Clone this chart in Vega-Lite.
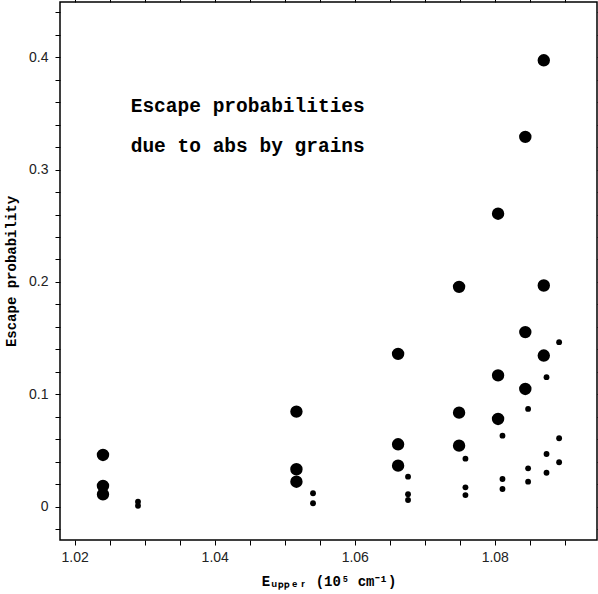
{
  "$schema": "https://vega.github.io/schema/vega-lite/v6.json",
  "autosize": "none",
  "width": 537,
  "height": 538,
  "padding": {"left": 60, "top": 2, "right": 1, "bottom": 54},
  "background": "white",
  "config": {
    "view": {"stroke": "black", "strokeWidth": 1.5},
    "axis": {"grid": false, "domain": false, "tickColor": "black", "tickWidth": 1, "labelFont": "Liberation Sans", "labelFontSize": 14, "labelColor": "#222", "titleFont": "Liberation Mono", "titleFontWeight": "bold", "titleFontSize": 14, "titleColor": "black"}
  },
  "datasets": {
    "pts": [
      {"e": 1.02404, "p": 0.0459, "kind": "big"},
      {"e": 1.02404, "p": 0.0183, "kind": "big"},
      {"e": 1.02404, "p": 0.0109, "kind": "big"},
      {"e": 1.02904, "p": 0.0043, "kind": "small"},
      {"e": 1.02904, "p": 0.0007, "kind": "small"},
      {"e": 1.05167, "p": 0.0845, "kind": "big"},
      {"e": 1.05167, "p": 0.0332, "kind": "big"},
      {"e": 1.05167, "p": 0.0221, "kind": "big"},
      {"e": 1.05404, "p": 0.0118, "kind": "small"},
      {"e": 1.05404, "p": 0.0029, "kind": "small"},
      {"e": 1.06619, "p": 0.1359, "kind": "big"},
      {"e": 1.06619, "p": 0.0554, "kind": "big"},
      {"e": 1.06619, "p": 0.0364, "kind": "big"},
      {"e": 1.06761, "p": 0.0266, "kind": "small"},
      {"e": 1.06761, "p": 0.0109, "kind": "small"},
      {"e": 1.06761, "p": 0.0058, "kind": "small"},
      {"e": 1.0749, "p": 0.1956, "kind": "big"},
      {"e": 1.0749, "p": 0.0836, "kind": "big"},
      {"e": 1.0749, "p": 0.0542, "kind": "big"},
      {"e": 1.07581, "p": 0.0426, "kind": "small"},
      {"e": 1.07581, "p": 0.0171, "kind": "small"},
      {"e": 1.07581, "p": 0.0102, "kind": "small"},
      {"e": 1.08047, "p": 0.2607, "kind": "big"},
      {"e": 1.08047, "p": 0.1168, "kind": "big"},
      {"e": 1.08047, "p": 0.078, "kind": "big"},
      {"e": 1.0811, "p": 0.0631, "kind": "small"},
      {"e": 1.0811, "p": 0.0245, "kind": "small"},
      {"e": 1.0811, "p": 0.0156, "kind": "small"},
      {"e": 1.08436, "p": 0.3291, "kind": "big"},
      {"e": 1.08436, "p": 0.1553, "kind": "big"},
      {"e": 1.08436, "p": 0.1047, "kind": "big"},
      {"e": 1.08476, "p": 0.0869, "kind": "small"},
      {"e": 1.08476, "p": 0.034, "kind": "small"},
      {"e": 1.08476, "p": 0.0221, "kind": "small"},
      {"e": 1.087, "p": 0.3973, "kind": "big"},
      {"e": 1.087, "p": 0.1968, "kind": "big"},
      {"e": 1.087, "p": 0.1344, "kind": "big"},
      {"e": 1.08739, "p": 0.1152, "kind": "small"},
      {"e": 1.08739, "p": 0.0468, "kind": "small"},
      {"e": 1.08739, "p": 0.0301, "kind": "small"},
      {"e": 1.08919, "p": 0.1463, "kind": "small"},
      {"e": 1.08919, "p": 0.0608, "kind": "small"},
      {"e": 1.08919, "p": 0.0394, "kind": "small"}
    ],
    "notes": [
      {"t": "Escape probabilities", "tx": 1.0280, "ty": 0.3512},
      {"t": "due to abs by grains", "tx": 1.0280, "ty": 0.3157}
    ]
  },
  "resolve": {"axis": {"x": "independent", "y": "independent"}},
  "layer": [
    {
      "data": {"name": "pts"},
      "mark": {"type": "circle", "color": "black", "opacity": 1},
      "encoding": {
        "x": {
          "field": "e", "type": "quantitative",
          "scale": {"domain": [1.0179, 1.0946], "nice": false, "zero": false},
          "axis": {
            "orient": "bottom",
            "values": [1.02, 1.025, 1.03, 1.035, 1.04, 1.045, 1.05, 1.055, 1.06, 1.065, 1.07, 1.075, 1.08, 1.085, 1.09],
            "labelExpr": "abs(datum.value*50 - round(datum.value*50)) < 0.001 ? format(datum.value, '.2f') : ''",
            "tickSize": 5,
            "labelPadding": 5,
            "title": "Eᵤₚₚₑᵣ (10⁵ cm⁻¹)",
            "titlePadding": 10,
            "encode": {"ticks": {"update": {"y2": [{"test": "abs(datum.value*50 - round(datum.value*50)) < 0.001", "value": -9}, {"value": -5}]}}}
          }
        },
        "y": {
          "field": "p", "type": "quantitative",
          "scale": {"domain": [-0.0298, 0.4492], "nice": false, "zero": false},
          "axis": {
            "orient": "left",
            "values": [-0.02, 0, 0.02, 0.04, 0.06, 0.08, 0.1, 0.12, 0.14, 0.16, 0.18, 0.2, 0.22, 0.24, 0.26, 0.28, 0.3, 0.32, 0.34, 0.36, 0.38, 0.4, 0.42, 0.44],
            "labelExpr": "abs(datum.value*10 - round(datum.value*10)) < 0.001 ? format(datum.value, '.1~f') : ''",
            "tickSize": 5,
            "labelPadding": 7,
            "title": "Escape probability",
            "titlePadding": 10,
            "encode": {"ticks": {"update": {"x2": [{"test": "abs(datum.value*10 - round(datum.value*10)) < 0.001", "value": 9}, {"value": 5}]}}}
          }
        },
        "size": {
          "field": "kind", "type": "nominal",
          "scale": {"domain": ["big", "small"], "range": [154, 34]},
          "legend": null
        }
      }
    },
    {
      "data": {"name": "notes"},
      "mark": {"type": "text", "align": "left", "baseline": "alphabetic", "font": "Liberation Mono", "fontSize": 19.5, "fontWeight": "bold", "color": "black"},
      "encoding": {
        "x": {
          "field": "tx", "type": "quantitative",
          "scale": {"domain": [1.0179, 1.0946], "nice": false, "zero": false},
          "axis": {
            "orient": "top",
            "values": [1.02, 1.025, 1.03, 1.035, 1.04, 1.045, 1.05, 1.055, 1.06, 1.065, 1.07, 1.075, 1.08, 1.085, 1.09],
            "labels": false,
            "tickSize": 5,
            "title": null,
            "encode": {"ticks": {"update": {"y2": [{"test": "abs(datum.value*50 - round(datum.value*50)) < 0.001", "value": 9}, {"value": 5}]}}}
          }
        },
        "y": {
          "field": "ty", "type": "quantitative",
          "scale": {"domain": [-0.0298, 0.4492], "nice": false, "zero": false},
          "axis": {
            "orient": "right",
            "values": [-0.02, 0, 0.02, 0.04, 0.06, 0.08, 0.1, 0.12, 0.14, 0.16, 0.18, 0.2, 0.22, 0.24, 0.26, 0.28, 0.3, 0.32, 0.34, 0.36, 0.38, 0.4, 0.42, 0.44],
            "labels": false,
            "tickSize": 5,
            "title": null,
            "encode": {"ticks": {"update": {"x2": [{"test": "abs(datum.value*10 - round(datum.value*10)) < 0.001", "value": -9}, {"value": -5}]}}}
          }
        },
        "text": {"field": "t", "type": "nominal"}
      }
    }
  ]
}
